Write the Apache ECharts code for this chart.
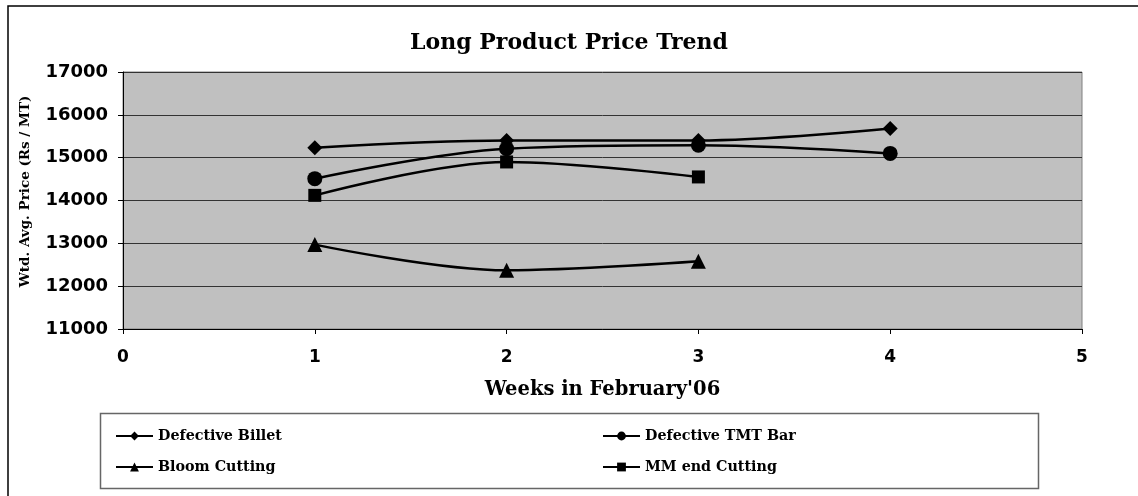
<!DOCTYPE html>
<html>
<head>
<meta charset="utf-8">
<script src="https://cdn.jsdelivr.net/npm/echarts@6/dist/echarts.min.js"></script>
<style>html,body{margin:0;padding:0;background:#fff;}#c{width:1138px;height:496px;}</style>
</head>
<body>
<div id="c"></div>
<script>
var weeks = [1, 2, 3, 4];
var seriesNames = ['Defective Billet', 'Defective TMT Bar', 'Bloom Cutting', 'MM end Cutting'];
var defectiveBillet = [15230, 15400, 15400, 15680];
var defectiveTMT = [14510, 15210, 15290, 15100];
var bloomCutting = [12970, 12370, 12580];
var mmEndCutting = [14120, 14900, 14550];
var symbols = ['diamond', 'circle', 'triangle', 'rect'];
var symbolSizes = [15, 15, 15, 13];

var allValues = [defectiveBillet, defectiveTMT, bloomCutting, mmEndCutting];
var chart = echarts.init(document.getElementById('c'));
var series = allValues.map(function (vals, i) {
  return {
    name: seriesNames[i],
    type: 'line',
    smooth: 0.35,
    data: vals.map(function (v, j) { return [weeks[j], v]; }),
    symbol: symbols[i],
    symbolSize: symbolSizes[i],
    showSymbol: true,
    lineStyle: { color: '#000', width: 2.5 },
    itemStyle: { color: '#000' },
    z: 3
  };
});
var legendPos = [[110, 424], [597, 424], [110, 455], [597, 455]];
var legends = seriesNames.map(function (n, i) {
  return {
    data: [n],
    left: legendPos[i][0],
    top: legendPos[i][1],
    itemWidth: 37,
    itemHeight: 11,
    itemGap: 2,
    textStyle: { fontFamily: 'DejaVu Serif', fontWeight: 'bold', fontSize: 14.3, color: '#000' },
    selectedMode: false
  };
});
chart.setOption({
  animation: false,
  title: {
    text: 'Long Product Price Trend',
    left: 'center',
    top: 27,
    textStyle: { fontFamily: 'DejaVu Serif', fontWeight: 'bold', fontSize: 22, color: '#000' }
  },
  legend: legends,
  grid: {
    left: 123, right: 56, top: 72, bottom: 167,
    show: true, backgroundColor: '#C0C0C0', borderColor: '#808080', borderWidth: 1
  },
  xAxis: {
    type: 'value', min: 0, max: 5, interval: 1,
    name: "Weeks in February'06", nameLocation: 'middle', nameGap: 51,
    nameTextStyle: { fontFamily: 'DejaVu Serif', fontWeight: 'bold', fontSize: 19.5, color: '#000', verticalAlign: 'top' },
    axisLine: { show: true, lineStyle: { color: '#000', width: 1 } },
    axisTick: { show: true, length: 5, lineStyle: { color: '#000' } },
    axisLabel: { margin: 20, fontFamily: 'DejaVu Sans', fontWeight: 'bold', fontSize: 17, color: '#000' },
    splitLine: { show: false }
  },
  yAxis: {
    type: 'value', min: 11000, max: 17000, interval: 1000,
    name: 'Wtd. Avg. Price (Rs / MT)', nameLocation: 'middle', nameGap: 91, nameRotate: 90,
    nameTextStyle: { fontFamily: 'DejaVu Serif', fontWeight: 'bold', fontSize: 13.5, color: '#000', padding: [0, 0, 0, 18] },
    axisLine: { show: true, lineStyle: { color: '#000', width: 1 } },
    axisTick: { show: true, length: 5, lineStyle: { color: '#000' } },
    axisLabel: { margin: 15, fontFamily: 'DejaVu Sans', fontWeight: 'bold', fontSize: 18, color: '#000',
      formatter: function (v) { return String(v); } },
    splitLine: { show: true, lineStyle: { color: '#333', width: 1 } }
  },
  graphic: [
    { type: 'polyline', shape: { points: [[8, 496], [8, 6], [1138, 6]] }, style: { stroke: '#000', lineWidth: 1.5, fill: null }, silent: true },
    { type: 'rect', shape: { x: 100.5, y: 413.5, width: 938, height: 75 }, style: { stroke: '#666', lineWidth: 1.5, fill: null }, silent: true, z: -1 }
  ],
  series: series
});
</script>
</body>
</html>
